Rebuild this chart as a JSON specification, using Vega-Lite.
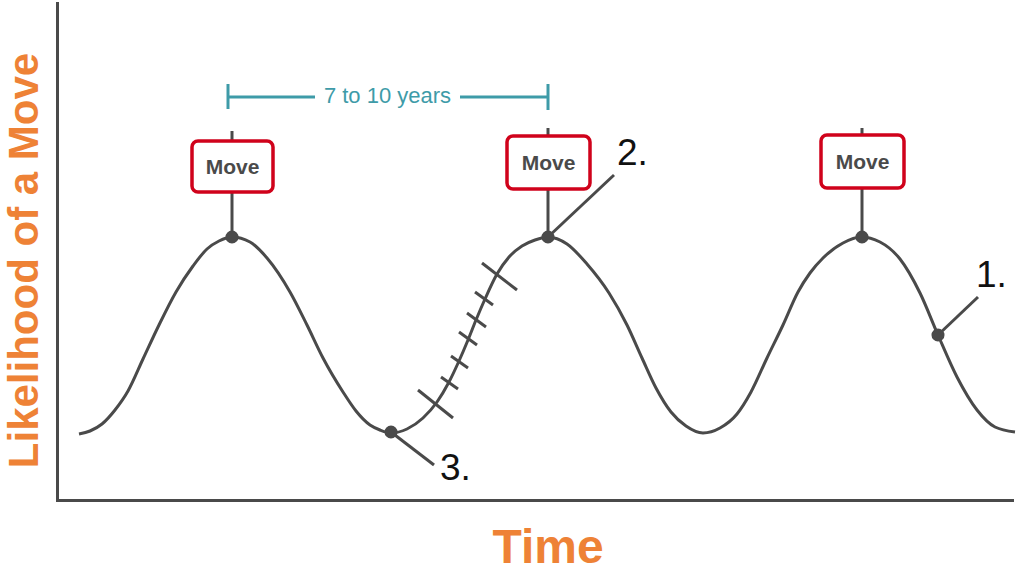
{
  "$schema": "https://vega.github.io/schema/vega-lite/v6.json",
  "width": 955,
  "height": 497,
  "autosize": {"type": "none"},
  "padding": {"left": 57, "top": 3, "right": 6, "bottom": 69},
  "background": "white",
  "config": {
    "view": {"stroke": null},
    "axis": {"domainColor": "#4a4a4a", "domainWidth": 3, "ticks": false, "labels": false, "grid": false, "domainCap": "square"}
  },
  "datasets": {
    "curve": [
      {"t": 22, "L": 66}, {"t": 33, "L": 69}, {"t": 45, "L": 76}, {"t": 58, "L": 90}, {"t": 71, "L": 109},
      {"t": 86, "L": 141}, {"t": 102, "L": 175}, {"t": 119, "L": 208}, {"t": 136, "L": 234}, {"t": 150, "L": 251},
      {"t": 162, "L": 259}, {"t": 175, "L": 263},
      {"t": 193, "L": 258}, {"t": 210, "L": 242}, {"t": 233, "L": 208}, {"t": 250, "L": 175}, {"t": 266, "L": 142},
      {"t": 286, "L": 108}, {"t": 299, "L": 89}, {"t": 313, "L": 75}, {"t": 323, "L": 70}, {"t": 334, "L": 67},
      {"t": 350, "L": 71}, {"t": 366, "L": 82}, {"t": 380, "L": 98}, {"t": 392, "L": 118}, {"t": 402, "L": 139},
      {"t": 411, "L": 160}, {"t": 419, "L": 180}, {"t": 428, "L": 201}, {"t": 440, "L": 226}, {"t": 452, "L": 243},
      {"t": 465, "L": 254}, {"t": 478, "L": 260}, {"t": 491, "L": 263},
      {"t": 510, "L": 256}, {"t": 530, "L": 236}, {"t": 552, "L": 207}, {"t": 570, "L": 175}, {"t": 585, "L": 142},
      {"t": 599, "L": 112}, {"t": 614, "L": 88}, {"t": 629, "L": 74}, {"t": 646, "L": 67},
      {"t": 663, "L": 72}, {"t": 680, "L": 86}, {"t": 694, "L": 108}, {"t": 710, "L": 142}, {"t": 726, "L": 175},
      {"t": 741, "L": 208}, {"t": 753, "L": 227}, {"t": 766, "L": 242}, {"t": 786, "L": 257}, {"t": 804, "L": 263},
      {"t": 823, "L": 258}, {"t": 843, "L": 241}, {"t": 863, "L": 207}, {"t": 881, "L": 165}, {"t": 900, "L": 123},
      {"t": 920, "L": 90}, {"t": 938, "L": 73}, {"t": 958, "L": 68}
    ],
    "segments": [
      {"t": 175, "L": 263, "t2": 175, "L2": 369},
      {"t": 491, "L": 263, "t2": 491, "L2": 372},
      {"t": 805, "L": 263, "t2": 805, "L2": 372},
      {"t": 881, "L": 165, "t2": 921, "L2": 203},
      {"t": 491, "L": 263, "t2": 557, "L2": 325},
      {"t": 334, "L": 68, "t2": 377, "L2": 35},
      {"t": 361, "L": 110, "t2": 396, "L2": 82},
      {"t": 384, "L": 123, "t2": 401, "L2": 111},
      {"t": 394, "L": 144, "t2": 411, "L2": 132},
      {"t": 402, "L": 168, "t2": 420, "L2": 155},
      {"t": 410, "L": 187, "t2": 429, "L2": 173},
      {"t": 418, "L": 208, "t2": 436, "L2": 195},
      {"t": 425, "L": 237, "t2": 460, "L2": 210}
    ],
    "points": [
      {"t": 175, "L": 263}, {"t": 491, "L": 263}, {"t": 805, "L": 263}, {"t": 334, "L": 68}, {"t": 881, "L": 165}
    ],
    "bracket": [
      {"t": 171, "L": 403, "t2": 258, "L2": 403},
      {"t": 403, "L": 403, "t2": 491, "L2": 403},
      {"t": 171, "L": 416, "t2": 171, "L2": 391},
      {"t": 491, "L": 416, "t2": 491, "L2": 390}
    ],
    "boxes": [
      {"t": 135, "t2": 216, "L": 308, "L2": 359},
      {"t": 450, "t2": 533, "L": 311, "L2": 364},
      {"t": 764, "t2": 847, "L": 312, "L2": 365}
    ],
    "moves": [
      {"t": 175.5, "L": 326, "label": "Move"},
      {"t": 491.5, "L": 330, "label": "Move"},
      {"t": 805.5, "L": 331, "label": "Move"}
    ],
    "numbers": [
      {"t": 919, "L": 213, "label": "1."},
      {"t": 560, "L": 335, "label": "2."},
      {"t": 383, "L": 20, "label": "3."}
    ],
    "span": [
      {"t": 330.5, "L": 397, "label": "7 to 10 years"}
    ]
  },
  "encoding": {
    "x": {"field": "t", "type": "quantitative", "scale": {"domain": [0, 955], "nice": false, "zero": false},
      "axis": {"title": "Time", "titleFont": "Liberation Sans", "titleFontSize": 48, "titleFontWeight": "bold", "titleColor": "#EE8236", "titleX": 490.5, "titleY": 62, "titleAlign": "center", "titleBaseline": "alphabetic"}},
    "y": {"field": "L", "type": "quantitative", "scale": {"domain": [0, 497], "nice": false, "zero": false},
      "axis": {"title": "Likelihood of a Move", "titleFont": "Liberation Sans", "titleFontSize": 42, "titleFontWeight": "bold", "titleColor": "#EE8236", "titleX": -20, "titleY": 257, "titleAlign": "center", "titleBaseline": "alphabetic", "titleAngle": 270}}
  },
  "layer": [
    {"data": {"name": "curve"}, "mark": {"type": "line", "interpolate": "monotone", "color": "#4a4a4a", "strokeWidth": 3}},
    {"data": {"name": "segments"}, "mark": {"type": "rule", "color": "#4a4a4a", "strokeWidth": 3},
      "encoding": {"x2": {"field": "t2"}, "y2": {"field": "L2"}}},
    {"data": {"name": "bracket"}, "mark": {"type": "rule", "color": "#3E9BA8", "strokeWidth": 3},
      "encoding": {"x2": {"field": "t2"}, "y2": {"field": "L2"}}},
    {"data": {"name": "points"}, "mark": {"type": "circle", "color": "#4a4a4a", "opacity": 1, "size": 170}},
    {"data": {"name": "boxes"}, "mark": {"type": "rect", "fill": "white", "stroke": "#D0021B", "strokeWidth": 3.5, "cornerRadius": 6},
      "encoding": {"x2": {"field": "t2"}, "y2": {"field": "L2"}}},
    {"data": {"name": "moves"}, "mark": {"type": "text", "font": "Liberation Sans", "fontWeight": "bold", "fontSize": 21, "color": "#4a4a4a", "align": "center", "baseline": "alphabetic"},
      "encoding": {"text": {"field": "label"}}},
    {"data": {"name": "numbers"}, "mark": {"type": "text", "font": "Liberation Sans", "fontSize": 37, "color": "#111111", "align": "left", "baseline": "alphabetic"},
      "encoding": {"text": {"field": "label"}}},
    {"data": {"name": "span"}, "mark": {"type": "text", "font": "Liberation Sans", "fontSize": 22, "color": "#3E9BA8", "align": "center", "baseline": "alphabetic"},
      "encoding": {"text": {"field": "label"}}}
  ]
}
